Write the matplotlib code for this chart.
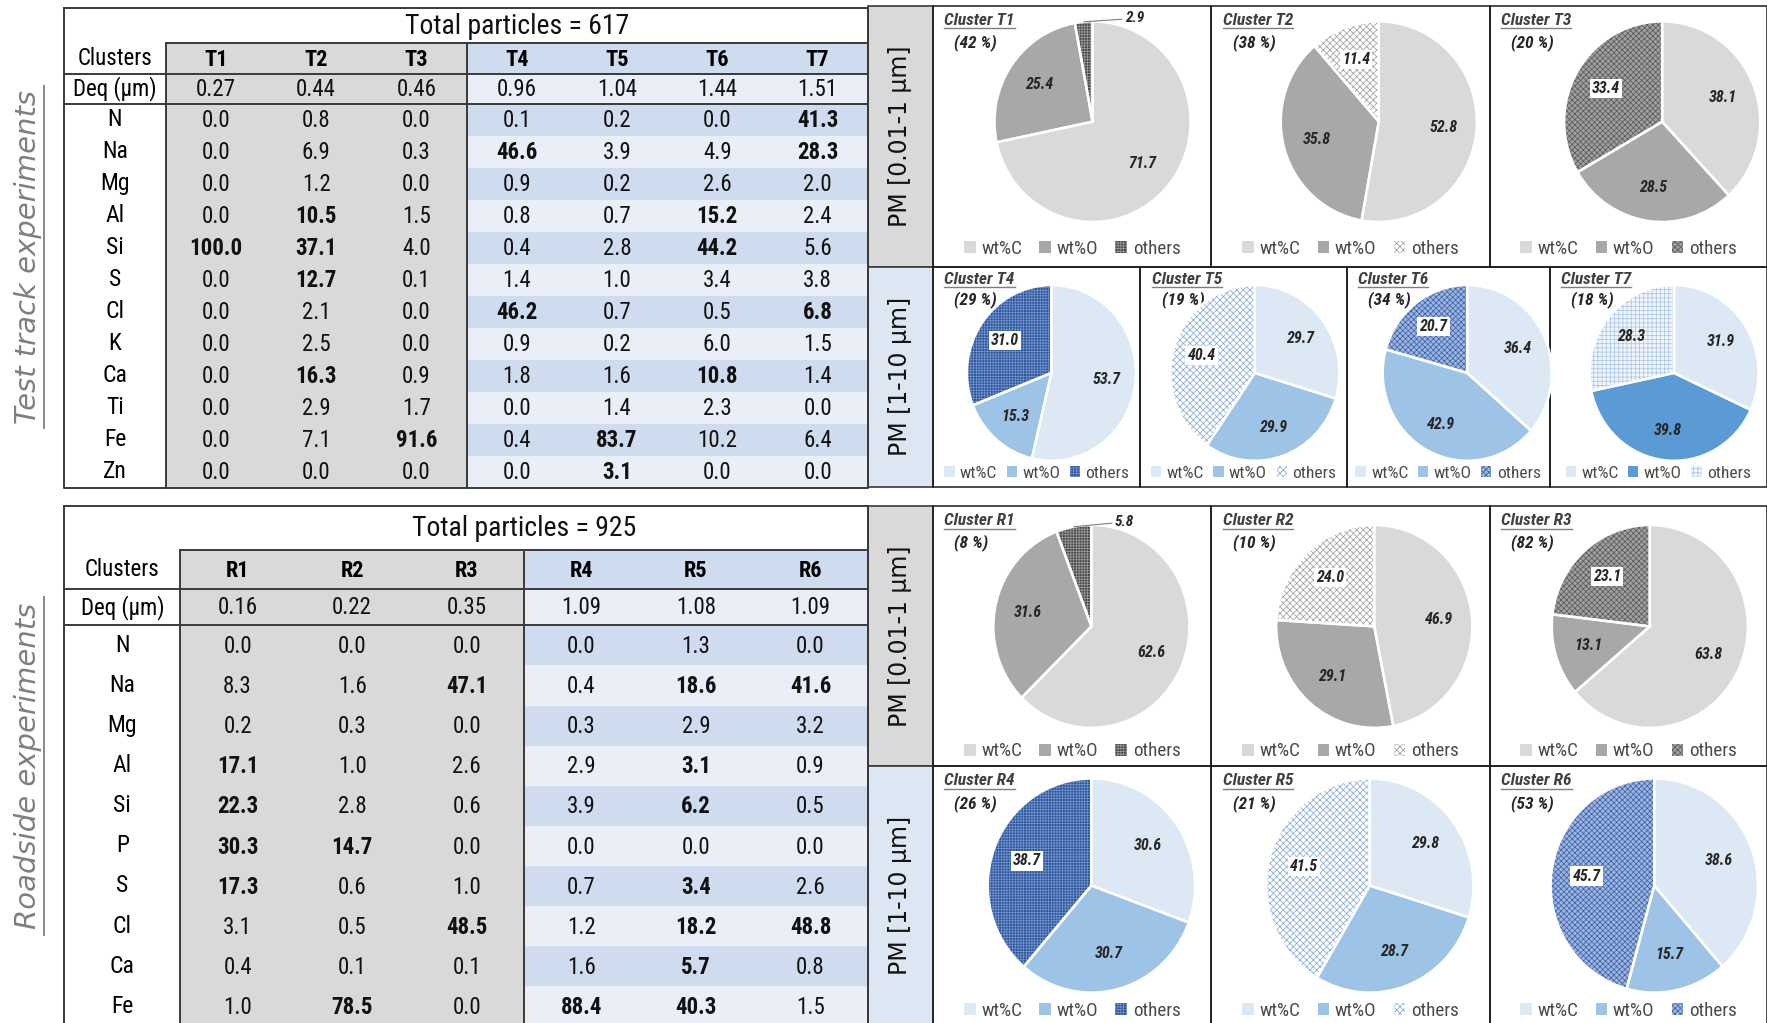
import matplotlib
matplotlib.use('Agg')
import matplotlib.pyplot as plt
from matplotlib.patches import Rectangle, Patch
from matplotlib import font_manager as fm
import numpy as np

# ---------------- data ----------------
test_clusters = ['T1', 'T2', 'T3', 'T4', 'T5', 'T6', 'T7']
test_deq = [0.27, 0.44, 0.46, 0.96, 1.04, 1.44, 1.51]
test_elements = ['N', 'Na', 'Mg', 'Al', 'Si', 'S', 'Cl', 'K', 'Ca', 'Ti', 'Fe', 'Zn']
test_values = [
    [0.0, 0.8, 0.0, 0.1, 0.2, 0.0, 41.3],
    [0.0, 6.9, 0.3, 46.6, 3.9, 4.9, 28.3],
    [0.0, 1.2, 0.0, 0.9, 0.2, 2.6, 2.0],
    [0.0, 10.5, 1.5, 0.8, 0.7, 15.2, 2.4],
    [100.0, 37.1, 4.0, 0.4, 2.8, 44.2, 5.6],
    [0.0, 12.7, 0.1, 1.4, 1.0, 3.4, 3.8],
    [0.0, 2.1, 0.0, 46.2, 0.7, 0.5, 6.8],
    [0.0, 2.5, 0.0, 0.9, 0.2, 6.0, 1.5],
    [0.0, 16.3, 0.9, 1.8, 1.6, 10.8, 1.4],
    [0.0, 2.9, 1.7, 0.0, 1.4, 2.3, 0.0],
    [0.0, 7.1, 91.6, 0.4, 83.7, 10.2, 6.4],
    [0.0, 0.0, 0.0, 0.0, 3.1, 0.0, 0.0],
]
test_bold = [
    [0, 0, 0, 0, 0, 0, 1],
    [0, 0, 0, 1, 0, 0, 1],
    [0, 0, 0, 0, 0, 0, 0],
    [0, 1, 0, 0, 0, 1, 0],
    [1, 1, 0, 0, 0, 1, 0],
    [0, 1, 0, 0, 0, 0, 0],
    [0, 0, 0, 1, 0, 0, 1],
    [0, 0, 0, 0, 0, 0, 0],
    [0, 1, 0, 0, 0, 1, 0],
    [0, 0, 0, 0, 0, 0, 0],
    [0, 0, 1, 0, 1, 0, 0],
    [0, 0, 0, 0, 1, 0, 0],
]
test_total = 617

road_clusters = ['R1', 'R2', 'R3', 'R4', 'R5', 'R6']
road_deq = [0.16, 0.22, 0.35, 1.09, 1.08, 1.09]
road_elements = ['N', 'Na', 'Mg', 'Al', 'Si', 'P', 'S', 'Cl', 'Ca', 'Fe']
road_values = [
    [0.0, 0.0, 0.0, 0.0, 1.3, 0.0],
    [8.3, 1.6, 47.1, 0.4, 18.6, 41.6],
    [0.2, 0.3, 0.0, 0.3, 2.9, 3.2],
    [17.1, 1.0, 2.6, 2.9, 3.1, 0.9],
    [22.3, 2.8, 0.6, 3.9, 6.2, 0.5],
    [30.3, 14.7, 0.0, 0.0, 0.0, 0.0],
    [17.3, 0.6, 1.0, 0.7, 3.4, 2.6],
    [3.1, 0.5, 48.5, 1.2, 18.2, 48.8],
    [0.4, 0.1, 0.1, 1.6, 5.7, 0.8],
    [1.0, 78.5, 0.0, 88.4, 40.3, 1.5],
]
road_bold = [
    [0, 0, 0, 0, 0, 0],
    [0, 0, 1, 0, 1, 1],
    [0, 0, 0, 0, 0, 0],
    [1, 0, 0, 0, 1, 0],
    [1, 0, 0, 0, 1, 0],
    [1, 1, 0, 0, 0, 0],
    [1, 0, 0, 0, 1, 0],
    [0, 0, 1, 0, 1, 1],
    [0, 0, 0, 0, 1, 0],
    [0, 1, 0, 1, 1, 0],
]
road_total = 925

# pie data (wt% of C, O, others) and cluster share
test_share = [42, 38, 20, 29, 19, 34, 18]
test_wtC = [71.7, 52.8, 38.1, 53.7, 29.7, 36.4, 31.9]
test_wtO = [25.4, 35.8, 28.5, 15.3, 29.9, 42.9, 39.8]
test_others = [2.9, 11.4, 33.4, 31.0, 40.4, 20.7, 28.3]
road_share = [8, 10, 82, 26, 21, 53]
road_wtC = [62.6, 46.9, 63.8, 30.6, 29.8, 38.6]
road_wtO = [31.6, 29.1, 13.1, 30.7, 28.7, 15.7]
road_others = [5.8, 24.0, 23.1, 38.7, 41.5, 45.7]
legend_labels = ['wt%C', 'wt%O', 'others']
size_labels = ['PM [0.01-1 \u00b5m]', 'PM [1-10 \u00b5m]']


# ---------------- fonts ----------------
def pick_font(names):
    for n in names:
        try:
            fm.findfont(fm.FontProperties(family=n), fallback_to_default=False)
            return n
        except Exception:
            pass
    return 'DejaVu Sans'


NARROW = pick_font(['Liberation Sans Narrow', 'Roboto Condensed', 'Liberation Sans'])
plt.rcParams['font.family'] = [NARROW, 'DejaVu Sans']
plt.rcParams['hatch.linewidth'] = 0.55

# ---------------- colours ----------------
TAB_GRAY = '#d9d9d9'
BLUE_D = '#cfdbee'
BLUE_L = '#e9eef7'
LINE = '#3a3a3a'
PM_GRAY = '#d9d9d9'
PM_BLUE = '#dde7f4'

G_C, G_O = '#d9d9d9', '#aaa7a7'
B_C, B_O = '#dde8f5', '#9dc3e6'
# (face colours, hatches, hatch colours) per pie
test_styles = [
    ([G_C, G_O, '#4a4a4a'], [None, None, '++++++'], [None, None, '#9a9a9a']),
    ([G_C, G_O, '#ffffff'], [None, None, 'xxxxx'], [None, None, '#a0a0a0']),
    ([G_C, G_O, '#a0a0a0'], [None, None, 'xxxxxx'], [None, None, '#5a5a5a']),
    ([B_C, B_O, '#2f5597'], [None, None, '++++++'], [None, None, '#7092cf']),
    ([B_C, B_O, '#ffffff'], [None, None, 'xxxxx'], [None, None, '#88aadb']),
    ([B_C, B_O, '#9db5e0'], [None, None, 'xxxxxx'], [None, None, '#3f63a8']),
    ([B_C, '#5b9bd5', '#f2f6fb'], [None, None, '++++'], [None, None, '#aac5e8']),
]
road_styles = [
    ([G_C, G_O, '#4a4a4a'], [None, None, '++++++'], [None, None, '#9a9a9a']),
    ([G_C, G_O, '#ffffff'], [None, None, 'xxxxx'], [None, None, '#a0a0a0']),
    ([G_C, G_O, '#a0a0a0'], [None, None, 'xxxxxx'], [None, None, '#5a5a5a']),
    ([B_C, B_O, '#2f5597'], [None, None, '++++++'], [None, None, '#7092cf']),
    ([B_C, B_O, '#ffffff'], [None, None, 'xxxxx'], [None, None, '#88aadb']),
    ([B_C, B_O, '#9db5e0'], [None, None, 'xxxxxx'], [None, None, '#3f63a8']),
]

# ---------------- figure ----------------
W, H = 1568.0, 908.0
fig = plt.figure(figsize=(17.67, 10.23), dpi=100)
bg = fig.add_axes([0, 0, 1, 1])
bg.set_xlim(0, W)
bg.set_ylim(H, 0)
bg.axis('off')


def add_ax(x0, y0, x1, y1):
    return fig.add_axes([x0 / W, 1 - y1 / H, (x1 - x0) / W, (y1 - y0) / H])


underlines = []


def draw_table(top, y_tot, y_clu, y_deq, row_h, bottom, x_left, x_lab, x_right,
               clusters, deq, elements, values, bold, total, ngray, fs):
    n = len(clusters)
    cw = (x_right - x_lab) / n
    x_split = x_lab + ngray * cw
    bg.add_patch(Rectangle((x_lab, y_tot), x_split - x_lab, bottom - y_tot, fc=TAB_GRAY, ec='none', zorder=1))
    bg.add_patch(Rectangle((x_split, y_tot), x_right - x_split, y_clu - y_tot, fc=BLUE_D, ec='none', zorder=1))
    bg.add_patch(Rectangle((x_split, y_clu), x_right - x_split, y_deq - y_clu, fc=BLUE_L, ec='none', zorder=1))
    for i in range(len(elements)):
        y0 = y_deq + i * row_h
        bg.add_patch(Rectangle((x_split, y0), x_right - x_split, row_h,
                               fc=BLUE_D if i % 2 == 0 else BLUE_L, ec='none', zorder=1))
    lk = dict(color=LINE, lw=1.4, zorder=3, solid_capstyle='projecting')
    bg.plot([x_left, x_right, x_right, x_left, x_left], [top, top, bottom, bottom, top], **lk)
    bg.plot([x_lab, x_right], [y_tot, y_tot], **lk)
    bg.plot([x_left, x_right], [y_clu, y_clu], **lk)
    bg.plot([x_left, x_right], [y_deq, y_deq], **lk)
    bg.plot([x_lab, x_lab], [y_tot, bottom], **lk)
    bg.plot([x_split, x_split], [y_tot, bottom], **lk)
    xl = (x_left + x_lab) / 2
    bg.text((x_lab + x_right) / 2, (top + y_tot) / 2 + 1, 'Total particles = %d' % total,
            ha='center', va='center', fontsize=fs + 4, color='#111111', zorder=4)
    bg.text(xl, (y_tot + y_clu) / 2, 'Clusters', ha='center', va='center', fontsize=fs + 0.5, zorder=4)
    bg.text(xl, (y_clu + y_deq) / 2, 'Deq (\u00b5m)', ha='center', va='center', fontsize=fs + 0.5, zorder=4)
    for j, c in enumerate(clusters):
        xc = x_lab + (j + 0.5) * cw
        bg.text(xc, (y_tot + y_clu) / 2 + 1, c, ha='center', va='center', fontsize=fs,
                fontweight='bold', zorder=4)
        bg.text(xc, (y_clu + y_deq) / 2, '%.2f' % deq[j], ha='center', va='center', fontsize=fs + 0.5,
                color='#111111', zorder=4)
    for i, el in enumerate(elements):
        yc = y_deq + (i + 0.5) * row_h
        bg.text(xl, yc, el, ha='center', va='center', fontsize=fs + 1, zorder=4)
        for j in range(n):
            xc = x_lab + (j + 0.5) * cw
            bg.text(xc, yc + 1, '%.1f' % values[i][j], ha='center', va='center', fontsize=fs + 0.5,
                    fontweight='bold' if bold[i][j] else 'normal', color='#111111', zorder=4)


draw_table(7, 38, 66, 92, (433 - 92) / 12.0, 433, 57, 147, 770,
           test_clusters, test_deq, test_elements, test_values, test_bold, test_total, 3, 16)
draw_table(449, 488, 523, 555, 35.6, H + 20, 57, 160, 770,
           road_clusters, road_deq, road_elements, road_values, road_bold, road_total, 3, 16)

# side labels
for txt, yc, y0, y1 in [('Test track experiments', 228, 76, 380),
                        ('Roadside experiments', 680, 530, 830)]:
    bg.text(25, yc, txt, rotation=90, ha='center', va='center', fontsize=21, style='italic',
            color='#7f7f7f', family='DejaVu Sans')
    bg.plot([39, 39], [y0, y1], color='#7f7f7f', lw=1.3)

# PM size label column
pm_blocks = [(5, 237, PM_GRAY, size_labels[0]), (237, 432, PM_BLUE, size_labels[1]),
             (449, 680, PM_GRAY, size_labels[0]), (680, H + 20, PM_BLUE, size_labels[1])]
for y0, y1, col, lab in pm_blocks:
    bg.add_patch(Rectangle((770, y0), 58, y1 - y0, fc=col, ec=LINE, lw=1.2, zorder=2))
    yc = (y0 + y1) / 2 if y1 < H else (y0 + 910) / 2
    bg.text(799, yc, lab, rotation=90, ha='center', va='center', fontsize=17,
            family='DejaVu Sans', color='#111111', zorder=4)


def draw_pie(panel, ell, vals, style, name, share, legend_y, lfs, tdy):
    px0, py0, px1, py1 = panel
    bg.add_patch(Rectangle((px0, py0), px1 - px0, py1 - py0, fc='none', ec='#1a1a1a', lw=1.1, zorder=5))
    cols, hatches, hcols = style
    ax = add_ax(*ell)
    wedges, _, autot = ax.pie(vals, startangle=90, counterclock=False, colors=cols,
                              autopct='%1.1f', pctdistance=0.66,
                              textprops=dict(fontsize=11.5, fontweight='bold', style='italic',
                                             color='#262626'))
    for w, h, hc in zip(wedges, hatches, hcols):
        w.set_clip_on(False)
        if h:
            w.set_hatch(h)
            w.set_edgecolor(hc)
        else:
            w.set_edgecolor('none')
        w.set_linewidth(0)
    sep, _ = ax.pie(vals, startangle=90, counterclock=False, colors=['none'] * len(vals),
                    wedgeprops=dict(edgecolor='white', linewidth=1.8, fill=False))
    for w in sep:
        w.set_clip_on(False)
    ax.set_aspect('auto')
    ax.set_xlim(-1, 1)
    ax.set_ylim(-1, 1)
    for k, t in enumerate(autot):
        t.set_text('%.1f' % vals[k])
        t.set_clip_on(False)
        if k == 2:
            if vals[k] < 8:
                t.set_visible(False)
                ang = np.deg2rad(90 - 360 * (sum(vals[:2]) + vals[2] / 2) / 100.0)
                ax.annotate('%.1f' % vals[k], xy=(np.cos(ang) * 1.0, np.sin(ang) * 1.0),
                            xytext=(np.cos(ang) + 0.42, 1.03), fontsize=11, fontweight='bold',
                            style='italic', color='#262626', va='center', ha='left',
                            annotation_clip=False,
                            arrowprops=dict(arrowstyle='-', color='#7f7f7f', lw=0.8,
                                            shrinkA=0, shrinkB=0))
            elif cols[2] != '#f2f6fb':
                t.set_bbox(dict(fc='white', ec='none', pad=1.5))
    t1 = bg.text(px0 + 10, py0 + 13 - tdy, 'Cluster ' + name, fontsize=12.5, fontweight='bold',
                 style='italic', color='#404040', va='center', ha='left', zorder=6)
    underlines.append(t1)
    bg.text(px0 + 19, py0 + 33 - 2 * tdy, '(%d %%)' % share, fontsize=12.5, fontweight='bold',
            style='italic', color='#262626', va='center', ha='left', zorder=6)
    handles = [Patch(facecolor=c, hatch=h, edgecolor=(hc if h else c), linewidth=0)
               for c, h, hc in zip(cols, hatches, hcols)]
    ax.legend(handles, legend_labels, loc='center', ncol=3, frameon=False,
              bbox_to_anchor=(((px0 + px1) / 2) / W, 1 - legend_y / H),
              bbox_transform=fig.transFigure, fontsize=lfs, labelcolor='#4a4a4a',
              handlelength=0.6, handleheight=0.6, handletextpad=0.3,
              columnspacing=0.9 if lfs > 13 else 0.55,
              borderpad=0, borderaxespad=0)


def pie_row(xedges, py0, py1, cy, ry, offsets, rx, legend_y, lfs, tdy,
            names, shares, C, O, Oth, styles):
    for k in range(len(names)):
        x0, x1 = xedges[k], xedges[k + 1]
        cx = (x0 + x1) / 2 + offsets[k]
        draw_pie((x0, py0, x1, py1), (cx - rx, cy - ry, cx + rx, cy + ry),
                 [C[k], O[k], Oth[k]], styles[k], names[k], shares[k], legend_y, lfs, tdy)


pie_row([828, 1075, 1322, 1568], 5, 237, 108, 89, [18, 25, 30], 87, 221, 13.8, 0,
        test_clusters[:3], test_share[:3], test_wtC[:3], test_wtO[:3], test_others[:3], test_styles[:3])
pie_row([828, 1012, 1195, 1375, 1568], 237, 432, 331, 78, [13, 10, 17, 14], 75, 420, 12.5, 2,
        test_clusters[3:], test_share[3:], test_wtC[3:], test_wtO[3:], test_others[3:], test_styles[3:])
pie_row([828, 1075, 1322, 1568], 449, 680, 556, 90, [17, 21, 19], 87, 667, 13.8, 0,
        road_clusters[:3], road_share[:3], road_wtC[:3], road_wtO[:3], road_others[:3], road_styles[:3])
pie_row([828, 1075, 1322, 1568], 680, H + 20, 786, 95, [17, 17, 23], 92, 897, 13.8, 0,
        road_clusters[3:], road_share[3:], road_wtC[3:], road_wtO[3:], road_others[3:], road_styles[3:])

# underline cluster titles
fig.canvas.draw()
r = fig.canvas.get_renderer()
inv = bg.transData.inverted()
for t in underlines:
    bb = t.get_window_extent(r)
    (xa, ya), (xb, yb) = inv.transform([(bb.x0, bb.y0), (bb.x1, bb.y0)])
    bg.plot([xa, xb], [ya + 0.5, yb + 0.5], color='#7f7f7f', lw=1.0, zorder=6)

fig.savefig('out.png', dpi=100)
